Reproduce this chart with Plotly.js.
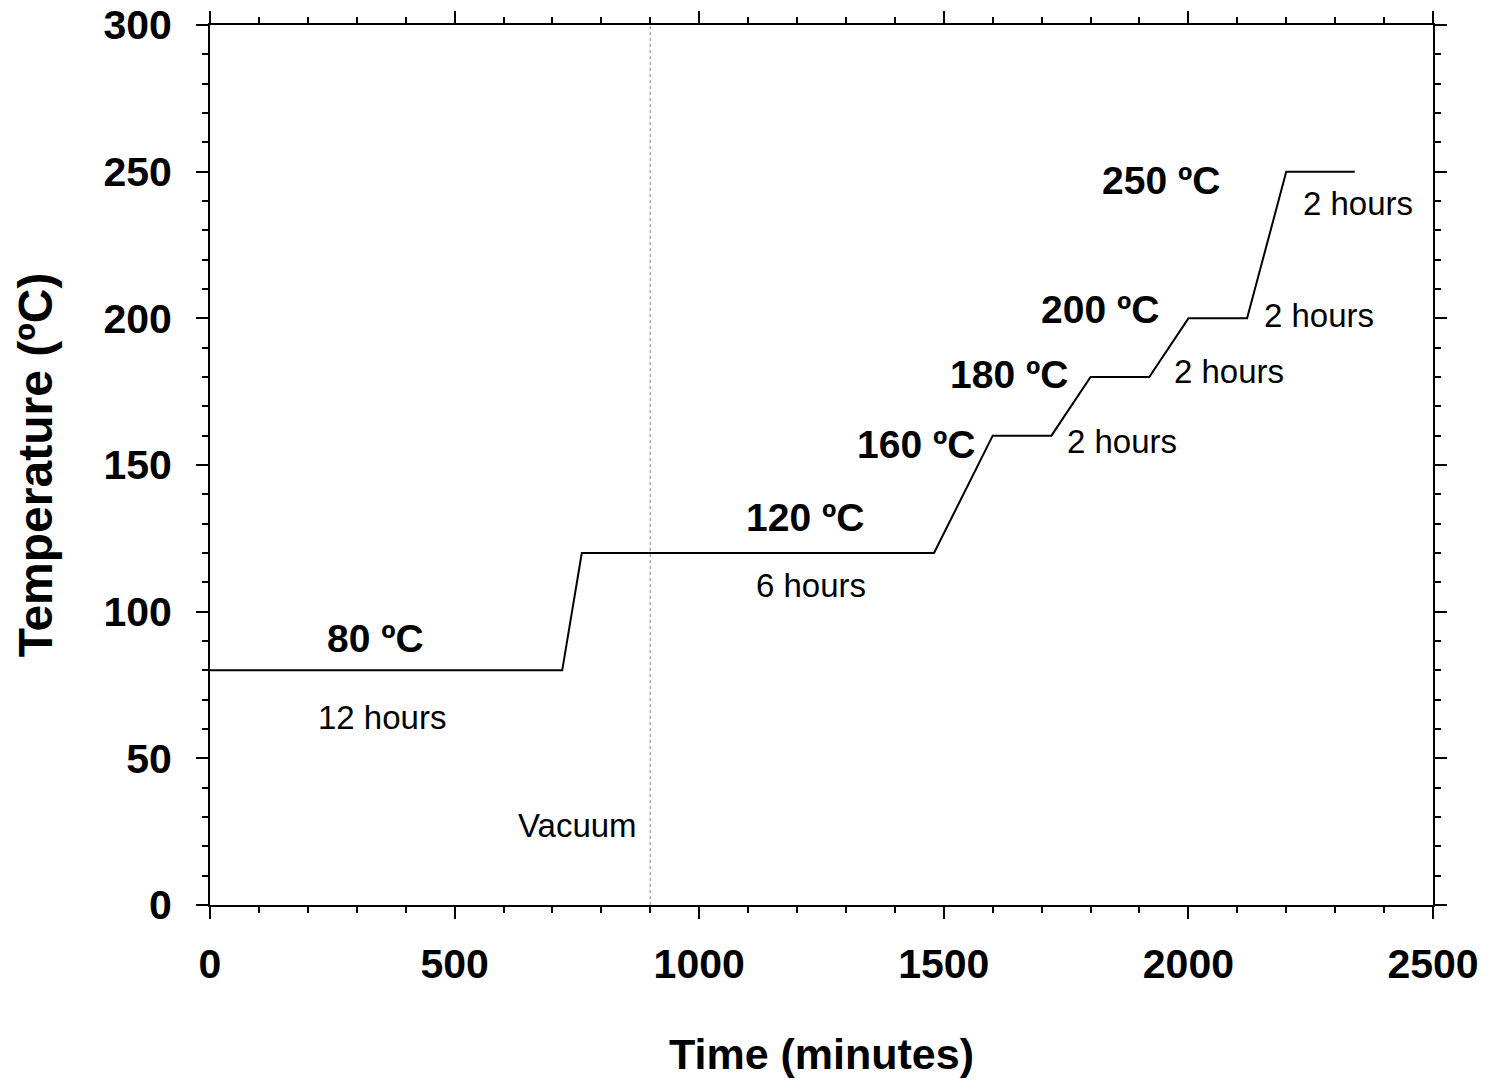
<!DOCTYPE html>
<html>
<head>
<meta charset="utf-8">
<script src="https://cdn.plot.ly/plotly-3.0.1.min.js"></script>
<style>html,body{margin:0;padding:0;background:#fff;}#chart{width:1492px;height:1084px;}</style>
</head>
<body>
<div id="chart"></div>
<script>
// Temperature program
const timeMin = [0, 720, 760, 1480, 1600, 1720, 1800, 1920, 2000, 2120, 2200, 2340];
const tempC   = [80, 80, 120, 120, 160, 160, 180, 180, 200, 200, 250, 250];

// Vacuum marker
const vacuumX = [900, 900];
const vacuumY = [0, 300];

// Labels
const tempLabels = ["80 ºC", "120 ºC", "160 ºC", "180 ºC", "200 ºC", "250 ºC"];
const tempLabelX = [339, 1216, 1443, 1633, 1819, 1944];
const tempLabelY = [91, 132, 157, 181, 203, 247];
const durLabels = ["12 hours", "6 hours", "2 hours", "2 hours", "2 hours", "2 hours"];
const durLabelX = [352, 1228, 1864, 2083, 2267, 2347];
const durLabelY = [64, 109, 158, 182, 201, 239];
const vacuumLabel = "Vacuum";
const vacuumLabelPos = [752, 27];

const FONT = "Liberation Sans, Arial, sans-serif";

const traces = [
  {x: vacuumX, y: vacuumY, mode: "lines", line: {color: "#aaaaaa", width: 1.5, dash: "dot"}, hoverinfo: "skip", showlegend: false},
  {x: timeMin, y: tempC, mode: "lines", line: {color: "#000000", width: 2}, showlegend: false}
];

const annotations = [];
tempLabels.forEach((t, i) => annotations.push({
  x: tempLabelX[i], y: tempLabelY[i], text: "<b>" + t + "</b>", showarrow: false,
  font: {family: FONT, size: 39, color: "#000"}, xanchor: "center", yanchor: "middle"
}));
durLabels.forEach((t, i) => annotations.push({
  x: durLabelX[i], y: durLabelY[i], text: t, showarrow: false,
  font: {family: FONT, size: 33, color: "#000"}, xanchor: "center", yanchor: "middle"
}));
annotations.push({x: vacuumLabelPos[0], y: vacuumLabelPos[1], text: vacuumLabel, showarrow: false,
  font: {family: FONT, size: 33, color: "#000"}, xanchor: "center", yanchor: "middle"});

const axisCommon = {
  showline: true, linecolor: "#000", linewidth: 2, mirror: "allticks",
  ticks: "outside", ticklen: 12, tickwidth: 2, tickcolor: "#000",
  showgrid: false, zeroline: false,
  tickfont: {family: FONT, size: 41, color: "#000", weight: "bold"}
};

const layout = {
  width: 1492, height: 1084,
  margin: {l: 210, r: 59, t: 25, b: 179},
  paper_bgcolor: "#fff", plot_bgcolor: "#fff",
  font: {family: FONT, color: "#000"},
  xaxis: Object.assign({}, axisCommon, {
    range: [0, 2500], tickvals: [0, 500, 1000, 1500, 2000, 2500],
    ticklabelstandoff: 10,
    minor: {dtick: 100, ticks: "outside", ticklen: 6, tickwidth: 2, tickcolor: "#000", showgrid: false},
    title: {text: "<b>Time (minutes)</b>", font: {family: FONT, size: 43, color: "#000"}, standoff: 53}
  }),
  yaxis: Object.assign({}, axisCommon, {
    range: [0, 300], tickvals: [0, 50, 100, 150, 200, 250, 300],
    ticklabelstandoff: 16,
    minor: {dtick: 10, ticks: "outside", ticklen: 6, tickwidth: 2, tickcolor: "#000", showgrid: false},
    title: {text: "<b>Temperature (ºC)</b>", font: {family: FONT, size: 48, color: "#000"}, standoff: 36}
  }),
  annotations: annotations,
  showlegend: false
};

Plotly.newPlot("chart", traces, layout, {displayModeBar: false, staticPlot: true});
</script>
</body>
</html>
